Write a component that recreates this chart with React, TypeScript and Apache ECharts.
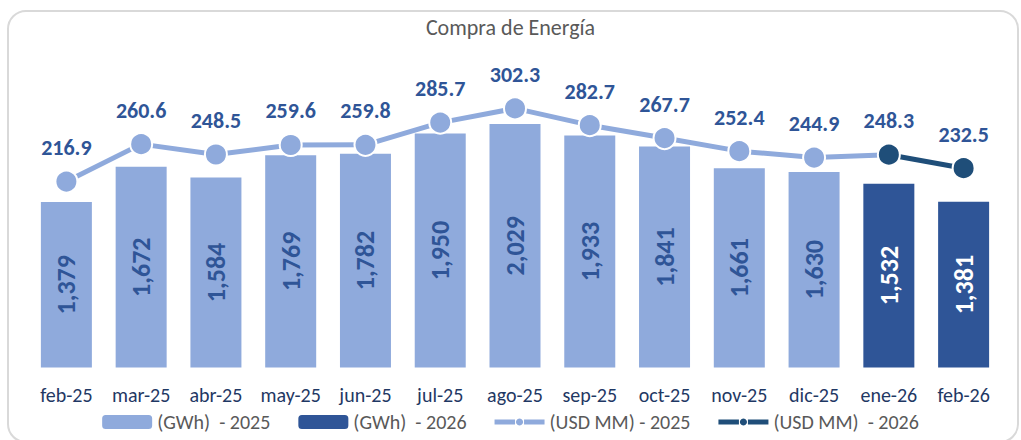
import React, { useEffect, useRef } from "react";
import * as echarts from "echarts";

const categories = ["feb-25", "mar-25", "abr-25", "may-25", "jun-25", "jul-25", "ago-25", "sep-25", "oct-25", "nov-25", "dic-25", "ene-26", "feb-26"];
const gwh2025 = [1379, 1672, 1584, 1769, 1782, 1950, 2029, 1933, 1841, 1661, 1630, null, null];
const gwh2026 = [null, null, null, null, null, null, null, null, null, null, null, 1532, 1381];
const usd2025 = [216.9, 260.6, 248.5, 259.6, 259.8, 285.7, 302.3, 282.7, 267.7, 252.4, 244.9, 248.3, null];
const usd2026 = [null, null, null, null, null, null, null, null, null, null, null, 248.3, 232.5];
const legendNames = ["(GWh)  - 2025", "(GWh)  - 2026", "(USD MM) - 2025", "(USD MM)  - 2026"];

const FONT = "Carlito, Calibri, 'Liberation Sans', sans-serif";
const LIGHT = "#8FAADC";
const DARK_BAR = "#2F5597";
const DARK_LINE = "#1F4E79";
const LABEL = "#2F5597";
const LINE_ICON = "path://M0,1.5 L20.5,1.5 L20.5,6.5 L0,6.5 Z M29.5,1.5 L50,1.5 L50,6.5 L29.5,6.5 Z M25,0.5 A3.5,3.5 0 1 1 24.99,0.5 Z";

export default function App() {
  const ref = useRef<HTMLDivElement>(null);
  useEffect(() => {
    if (!ref.current) return;
    const chart = echarts.init(ref.current, null, { renderer: "svg" });
    const lastIdx2025 = usd2025.length - 1 - [...usd2025].reverse().findIndex((v) => v !== null);
    const line2025Data = usd2025.map((v, i) =>
      v === null
        ? "-"
        : i === lastIdx2025 && usd2026[i] !== null
        ? { value: v, symbol: "none", label: { show: false } }
        : v
    );
    const barLabel = (color: string) => ({
      show: true,
      position: "inside",
      rotate: 90,
      fontFamily: FONT,
      fontSize: 26,
      fontWeight: "bold",
      color,
      formatter: (p: any) => Number(p.value).toLocaleString("en-US"),
    });
    const lineLabel = {
      show: true,
      position: "top",
      distance: 11,
      fontFamily: FONT,
      fontSize: 22,
      fontWeight: "bold",
      color: LABEL,
      formatter: (p: any) => Number(p.value).toFixed(1),
    };
    chart.setOption({
      animation: false,
      textStyle: { fontFamily: FONT },
      title: {
        text: "Compra de Energía",
        left: "center",
        top: 11,
        textStyle: { fontFamily: FONT, fontSize: 22, fontWeight: "normal", color: "#595959" },
      },
      graphic: [
        {
          type: "rect",
          shape: { x: 8, y: 11, width: 1010, height: 431, r: 18 },
          style: { fill: "none", stroke: "#D9D9D9", lineWidth: 2 },
          silent: true,
          z: -10,
        },
      ],
      legend: {
        top: 407,
        left: "center",
        itemWidth: 50,
        itemHeight: 14,
        itemGap: 28,
        textStyle: { fontFamily: FONT, fontSize: 20, color: "#595959" },
        data: [
          { name: legendNames[0] },
          { name: legendNames[1] },
          { name: legendNames[2], icon: LINE_ICON, itemStyle: { color: LIGHT, borderWidth: 0 } },
          { name: legendNames[3], icon: LINE_ICON, itemStyle: { color: DARK_LINE, borderWidth: 0 } },
        ],
      },
      grid: { left: 29, right: 20, top: 67.5, bottom: 72.5 },
      xAxis: {
        type: "category",
        data: categories,
        axisLine: { show: false },
        axisTick: { show: false },
        axisLabel: { interval: 0, margin: 17, fontFamily: FONT, fontSize: 20, color: "#1F3864" },
      },
      yAxis: [
        { type: "value", min: 0, max: 2500, show: false },
        { type: "value", min: 0, max: 350, show: false },
      ],
      series: [
        {
          name: legendNames[0],
          type: "bar",
          data: gwh2025.map((v) => (v === null ? "-" : v)),
          barWidth: 51,
          barGap: "-100%",
          itemStyle: { color: LIGHT },
          label: barLabel(LABEL),
        },
        {
          name: legendNames[1],
          type: "bar",
          data: gwh2026.map((v) => (v === null ? "-" : v)),
          barWidth: 51,
          barGap: "-100%",
          itemStyle: { color: DARK_BAR },
          label: barLabel("#FFFFFF"),
        },
        {
          name: legendNames[2],
          type: "line",
          yAxisIndex: 1,
          data: line2025Data,
          symbol: "circle",
          symbolSize: 22,
          lineStyle: { color: LIGHT, width: 5 },
          itemStyle: { color: LIGHT, borderColor: "#FFFFFF", borderWidth: 2 },
          label: lineLabel,
          z: 3,
        },
        {
          name: legendNames[3],
          type: "line",
          yAxisIndex: 1,
          data: usd2026.map((v) => (v === null ? "-" : v)),
          symbol: "circle",
          symbolSize: 22,
          lineStyle: { color: DARK_LINE, width: 5 },
          itemStyle: { color: DARK_LINE, borderColor: "#FFFFFF", borderWidth: 2 },
          label: lineLabel,
          z: 4,
        },
      ],
    });
    return () => chart.dispose();
  }, []);
  return <div ref={ref} style={{ position: "fixed", left: 0, top: 0, width: 1021, height: 440, background: "#fff" }} />;
}
